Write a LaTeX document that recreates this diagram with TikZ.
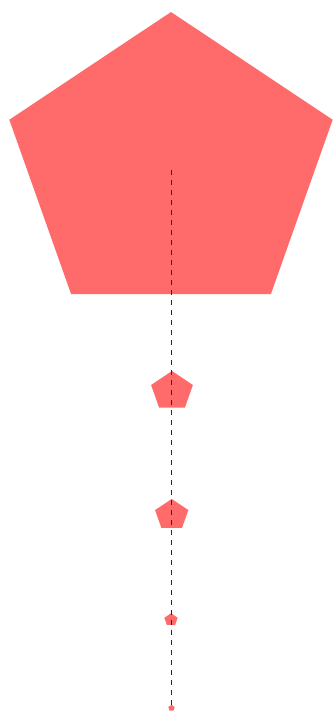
\documentclass[tikz,border=0pt]{standalone}
\usepackage{tikz}
\usepackage{xcolor}
\usetikzlibrary{calc}
\definecolor{pentred}{RGB}{255,107,107}
\definecolor{stemgray}{RGB}{40,40,40}

% filled pentagon: centre x, centre y, radius (px units, y downwards)
\newcommand{\pentagon}[3]{%
  \fill[pent,shift={(#1,#2)},yscale=0.917]
    (-90:#3) -- (-18:#3) -- (54:#3) -- (126:#3) -- (198:#3) -- cycle;}

\begin{document}
\begin{tikzpicture}[x=0.75pt,y=-0.75pt]
\tikzset{pent/.style={fill=pentred},
  stem/.style={stemgray,line width=1.1pt,dash pattern=on 4.1pt off 3.4pt}}

%% ── canvas ──────────────────────────────────────────────────────────────────
\useasboundingbox (0,0) rectangle (333,711);

%% ── pentagons, largest to smallest ──────────────────────────────────────────
\pentagon{171}{167.9}{170}
\pentagon{172}{391.2}{22}
\pentagon{171.7}{515}{17.5}
\pentagon{171}{619.7}{7}
\pentagon{171.5}{708}{3.4}

%% ── dashed stem from centre of big pentagon ─────────────────────────────────
\coordinate (top) at (171.5,170);
\coordinate (tip) at (171.5,708);
\draw[stem] (top) -- (tip);

\end{tikzpicture}
\end{document}
